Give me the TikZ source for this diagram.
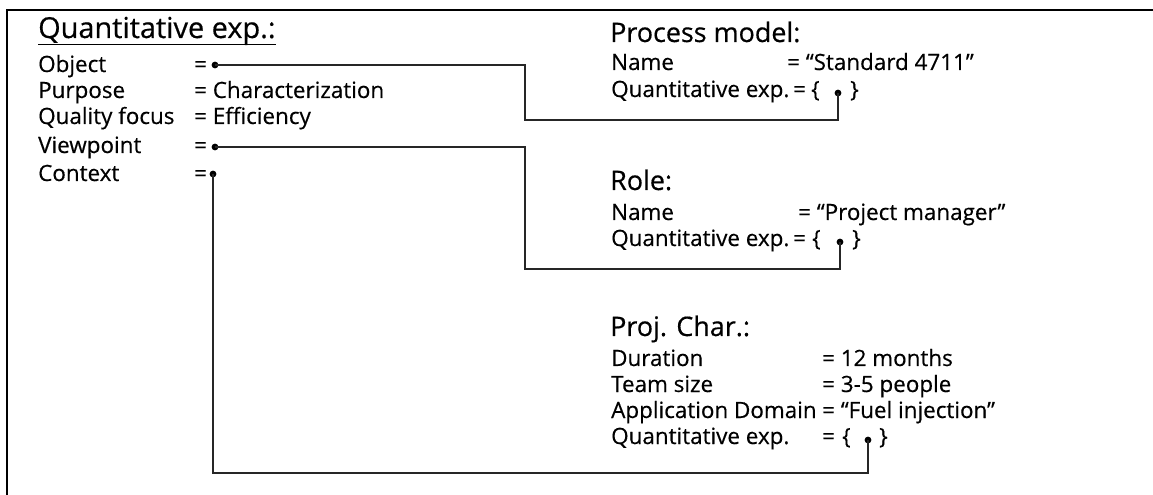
\documentclass[tikz,border=0pt]{standalone}
\usepackage{fontspec}
\setmainfont{Open Sans}[FakeBold=0.45]
\begin{document}
\begin{tikzpicture}[x=1bp,y=-1bp]
\tikzset{
  txt/.style={anchor=base west, inner sep=0pt, font=\fontsize{22.5}{27}\selectfont},
  head/.style={anchor=base west, inner sep=0pt, font=\fontsize{27}{32}\selectfont},
  bighead/.style={anchor=base west, inner sep=0pt, font=\fontsize{29}{34}\selectfont},
  dot/.style={circle, fill=black, inner sep=0pt, minimum size=6.8bp},
  conn/.style={draw=black!85, line width=1.1bp},
  frame/.style={draw=black, line width=1.3bp},
}
\useasboundingbox (0,0) rectangle (1153,495);
% frame
\coordinate (ftr) at (1153,10);
\coordinate (ftl) at (7,10);
\coordinate (fbl) at (7,495);
\draw[frame] (ftr) -- (ftl) -- (fbl);

% left block
\node[bighead] (qh) at (38,38) {Quantitative exp.:};
\draw[line width=1.2bp] ([yshift=-6.5bp]qh.base west) -- ([yshift=-6.5bp]qh.base east);
\node[txt] (l1) at (38,72) {Object};
\node[txt] (e1) at (194,72) {=};
\node[dot] (d1) at (215,65) {};
\node[txt] (l2) at (38,98) {Purpose};
\node[txt] (e2) at (194,98) {= Characterization};
\node[txt] (l3) at (38,124) {Quality focus};
\node[txt] (e3) at (194,124) {= Efficiency};
\node[txt] (l4) at (38,153) {Viewpoint};
\node[txt] (e4) at (194,153) {=};
\node[dot] (d4) at (215,147) {};
\node[txt] (l5) at (38,181) {Context};
\node[txt] (e5) at (194,181) {=};
\node[dot] (d5) at (213,174) {};

% process model
\node[head] (ph) at (610,42) {Process model:};
\node[txt] (pn) at (611,70) {Name};
\node[txt] (pne) at (787,70) {= “Standard 4711”};
\node[txt] (pq) at (611,97) {Quantitative exp.};
\node[txt] (pqe) at (793,97) {=};
\node[txt] (pqo) at (811,97) {\{};
\node[dot] (pd) at (838,93) {};
\node[txt] (pqc) at (850,97) {\}};

% role
\node[head] (rh) at (610,190) {Role:};
\node[txt] (rn) at (611,220) {Name};
\node[txt] (rne) at (798,220) {= “Project manager”};
\node[txt] (rq) at (611,246) {Quantitative exp.};
\node[txt] (rqe) at (793,246) {=};
\node[txt] (rqo) at (812,246) {\{};
\node[dot] (rd) at (840,242) {};
\node[txt] (rqc) at (852,246) {\}};

% project characteristics
\node[head] (jh) at (610,336) {Proj. Char.:};
\node[txt] (j1) at (611,366) {Duration};
\node[txt] (j1e) at (822,366) {= 12 months};
\node[txt] (j2) at (611,392) {Team size};
\node[txt] (j2e) at (822,392) {= 3-5 people};
\node[txt] (j3) at (611,418) {Application Domain};
\node[txt] (j3e) at (822,418) {= “Fuel injection”};
\node[txt] (j4) at (611,444) {Quantitative exp.};
\node[txt] (j4e) at (822,444) {=};
\node[txt] (j4o) at (842,444) {\{};
\node[dot] (jd) at (868,440) {};
\node[txt] (j4c) at (879,444) {\}};

% connectors
\coordinate (k1) at (525,120);
\coordinate (k2) at (525,269);
\coordinate (k3) at (868,473);
\draw[conn] (d1.center) -| (k1) -| (pd.center);
\draw[conn] (d4.center) -| (k2) -| (rd.center);
\draw[conn] (d5.center) |- (k3) -- (jd.center);
\end{tikzpicture}
\end{document}
